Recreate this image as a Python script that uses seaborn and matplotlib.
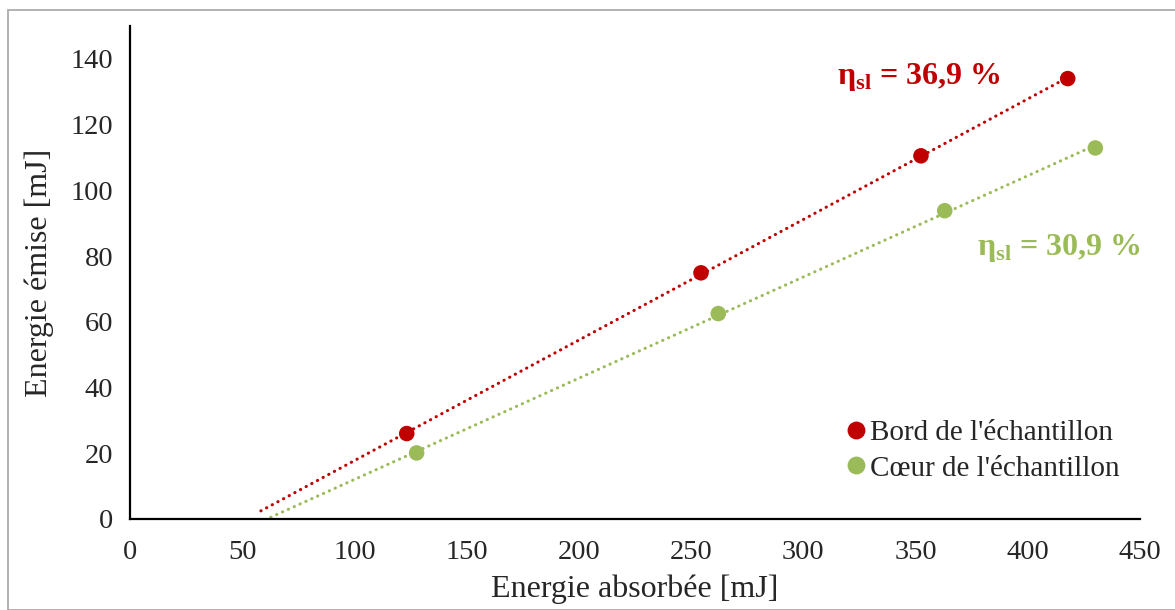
import numpy as np
import pandas as pd
import matplotlib
matplotlib.use('Agg')
import matplotlib.pyplot as plt
import seaborn as sns

# data
bord_x = [123.3, 254.4, 352.4, 417.8]
bord_y = [26.0, 74.9, 110.5, 134.0]
coeur_x = [127.7, 262.1, 363.0, 430.1]
coeur_y = [20.1, 62.5, 93.8, 112.9]
series_names = ["Bord de l'échantillon", "Cœur de l'échantillon"]
slope_labels = ['36,9', '30,9']
x_ticks = [0, 50, 100, 150, 200, 250, 300, 350, 400, 450]
y_ticks = [0, 20, 40, 60, 80, 100, 120, 140]
backcast = 65  # excel trendline backward forecast

sns.set_style('white')
plt.rcParams['font.family'] = ['Liberation Serif', 'DejaVu Serif']
plt.rcParams['mathtext.fontset'] = 'custom'
plt.rcParams['mathtext.rm'] = 'Liberation Serif'
plt.rcParams['mathtext.bf'] = 'Liberation Serif:bold'

red = '#C00000'
green = '#9BBB59'

df = pd.DataFrame({
    'x': bord_x + coeur_x,
    'y': bord_y + coeur_y,
    'serie': [series_names[0]] * len(bord_x) + [series_names[1]] * len(coeur_x),
})

fig = plt.figure(figsize=(11.75, 6.10), dpi=100)
ax = fig.add_axes([130 / 1175, 1 - 519 / 610, 1010 / 1175, 493 / 610])

# outer chart border
fig.add_artist(plt.Rectangle((8 / 1175, 0), 1.2, 1 - 10 / 610, transform=fig.transFigure,
                             fill=False, edgecolor='#A6A6A6', linewidth=1.2))

# trend lines
for xs, ys, c in [(bord_x, bord_y, red), (coeur_x, coeur_y, green)]:
    a, b = np.polyfit(xs, ys, 1)
    xl = np.array([min(xs) - backcast, max(xs)])
    ax.plot(xl, a * xl + b, color=c, linewidth=2.2, linestyle=(0, (0.1, 2.0)),
            dash_capstyle='round', zorder=2)

sns.scatterplot(data=df, x='x', y='y', hue='serie', palette=[red, green],
                s=125, edgecolor='none', ax=ax, zorder=3)

ax.set_xlim(0, 450)
ax.set_ylim(0, 150)
ax.set_xticks(x_ticks)
ax.set_yticks(y_ticks)
ax.tick_params(axis='both', direction='in', length=7, width=1.5, labelsize=20.5)
ax.tick_params(axis='y', pad=12)
ax.tick_params(axis='x', pad=15)
for s in ['top', 'right']:
    ax.spines[s].set_visible(False)
for s in ['left', 'bottom']:
    ax.spines[s].set_linewidth(1.6)
    ax.spines[s].set_color('black')
ax.set_xlabel('Energie absorbée [mJ]', fontsize=23, labelpad=7)
ax.set_ylabel('Energie émise [mJ]', fontsize=23, labelpad=12)

ax.text(315, 134.5, r'η$_{\mathbf{sl}}$ = ' + slope_labels[0] + ' %', color=red,
        fontsize=23, fontweight='bold', va='center', ha='left')
ax.text(377.5, 82.5, r'η$_{\mathbf{sl}}$ = ' + slope_labels[1] + ' %', color=green,
        fontsize=23, fontweight='bold', va='center', ha='left')

leg = ax.legend(loc='upper left', bbox_to_anchor=(841 / 1175, 1 - 420 / 610),
                bbox_transform=fig.transFigure, frameon=False, fontsize=21,
                handletextpad=0.0, handlelength=1.0, borderpad=0, labelspacing=0.3,
                borderaxespad=0, markerscale=1.15)

fig.savefig('out.png', dpi=100)
